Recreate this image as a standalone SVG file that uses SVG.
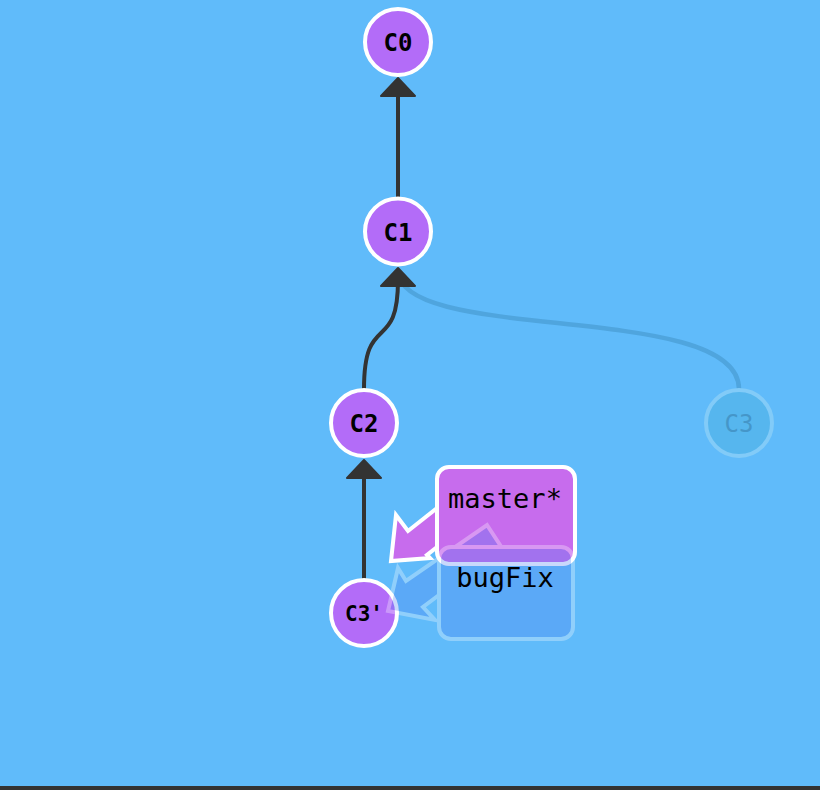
<svg xmlns="http://www.w3.org/2000/svg" width="820" height="790" viewBox="0 0 820 790">
<style>
.edge{fill:none;stroke:#333;stroke-width:4}
.head{fill:#333;stroke:#333;stroke-width:2;stroke-linejoin:round}
.node circle{fill:#b36cf8;stroke:#fff;stroke-width:4}
.node text{font-family:"DejaVu Sans Mono","Liberation Mono",monospace;font-weight:bold;font-size:24px;fill:#000;text-anchor:middle}
.lbl{font-family:"DejaVu Sans Mono","Liberation Mono",monospace;font-size:27px;fill:#000;text-anchor:middle}
</style>
<rect x="0" y="0" width="820" height="790" fill="#60bbfa"/>
<rect x="0" y="786" width="820" height="4" fill="#333"/>
<g id="connectors">
  <path d="M739 389 C739 300 398 345 398 270" fill="none" stroke="#4fa5de" stroke-width="4.5"/>
  <path class="edge" d="M398 197 L398 92"/>
  <polygon class="head" points="398,78 381,96 415,96"/>
  <path class="edge" d="M364 389 C364 310 398 355 398 280"/>
  <polygon class="head" points="398,268 381,286 415,286"/>
  <path class="edge" d="M364 579 L364 472"/>
  <polygon class="head" points="364,460 347,478 381,478"/>
</g>
<g id="C0" class="node"><circle cx="398" cy="42" r="33"/><text x="398" y="51">C0</text></g>
<g id="C1" class="node"><circle cx="398" cy="231.5" r="33"/><text x="398" y="241">C1</text></g>
<g id="C2" class="node"><circle cx="364" cy="423" r="33"/><text x="364" y="432">C2</text></g>
<g id="C3">
  <circle cx="739" cy="423" r="33" fill="#56b6ee" stroke="#82cbf8" stroke-width="4"/>
  <text x="739" y="432" font-family="DejaVu Sans Mono, Liberation Mono, monospace" font-size="24" fill="#4596c9" text-anchor="middle">C3</text>
</g>
<g id="C3p" class="node"><circle cx="364" cy="613" r="33"/><text x="364" y="620.5" style="font-size:21px">C3'</text></g>
<g id="master">
  <polygon points="391,561 396,515 408,531 470,482 479,514 427,555 430,558" fill="#c76ced" stroke="#fff" stroke-width="4" stroke-linejoin="miter"/>
  <rect x="437" y="467" width="138" height="97" rx="12" fill="#c76ced" stroke="#fff" stroke-width="4"/>
  <text class="lbl" x="505" y="508">master*</text>
</g>
<g id="bugFix">
  <g opacity="0.3">
    <polygon points="388,611 398,568 406,581 487,525 502,548 423,607 435,620" fill="#5080f3" stroke="#fff" stroke-width="4"/>
    <rect x="439" y="547" width="134" height="92" rx="12" fill="#5080f3" stroke="#fff" stroke-width="4"/>
  </g>
  <text class="lbl" x="505" y="587">bugFix</text>
</g>
</svg>
